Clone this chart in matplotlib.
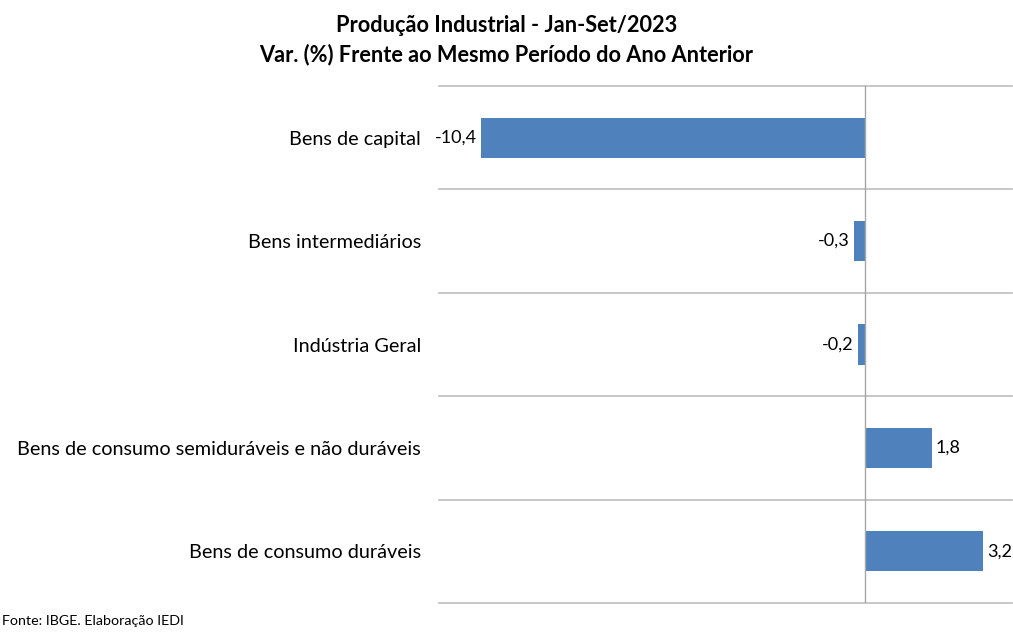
import matplotlib.pyplot as plt

# dados do gráfico
categorias = ['Bens de capital', 'Bens intermediários', 'Indústria Geral',
              'Bens de consumo semiduráveis e não duráveis', 'Bens de consumo duráveis']
valores = [-10.4, -0.3, -0.2, 1.8, 3.2]
rotulos = ['-10,4', '-0,3', '-0,2', '1,8', '3,2']

plt.rcParams['font.family'] = ['Lato', 'DejaVu Sans']

fig = plt.figure(figsize=(10.13, 6.33), dpi=100)
ax = fig.add_axes([439 / 1013, 30 / 633, 573 / 1013, 517 / 633])

pos = list(range(len(categorias)))
ax.barh(pos, valores, height=0.39, color='#4F81BD', zorder=3)

ax.set_xlim(-11.54, 3.98)
ax.set_ylim(len(categorias) - 0.5, -0.5)

# linhas separadoras entre categorias
for i in range(len(categorias) + 1):
    ax.axhline(i - 0.5, color='#BEBEBE', lw=1.2, zorder=1, clip_on=False)
ax.axvline(0, color='#A6A6A6', lw=1.0, zorder=4)

for p, v, r in zip(pos, valores, rotulos):
    if v < 0:
        ax.annotate(r, (v, p), xytext=(-3, 0), textcoords='offset points',
                    ha='right', va='center', fontsize=13)
    else:
        ax.annotate(r, (v, p), xytext=(3, 0), textcoords='offset points',
                    ha='left', va='center', fontsize=13)

ax.set_yticks(pos)
ax.set_yticklabels(categorias, fontsize=14.3)
ax.tick_params(axis='y', length=0, pad=13)
ax.set_xticks([])
for s in ax.spines.values():
    s.set_visible(False)

fig.text(0.5, 1 - 25 / 633, 'Produção Industrial - Jan-Set/2023', ha='center', va='center',
         fontsize=15.7, fontweight='bold')
fig.text(0.5, 1 - 55 / 633, 'Var. (%) Frente ao Mesmo Período do Ano Anterior', ha='center',
         va='center', fontsize=15.7, fontweight='bold')
fig.text(0.002, 1 - 621 / 633, 'Fonte: IBGE. Elaboração IEDI', ha='left', va='center', fontsize=10.3)

fig.savefig('out.png', dpi=100)
